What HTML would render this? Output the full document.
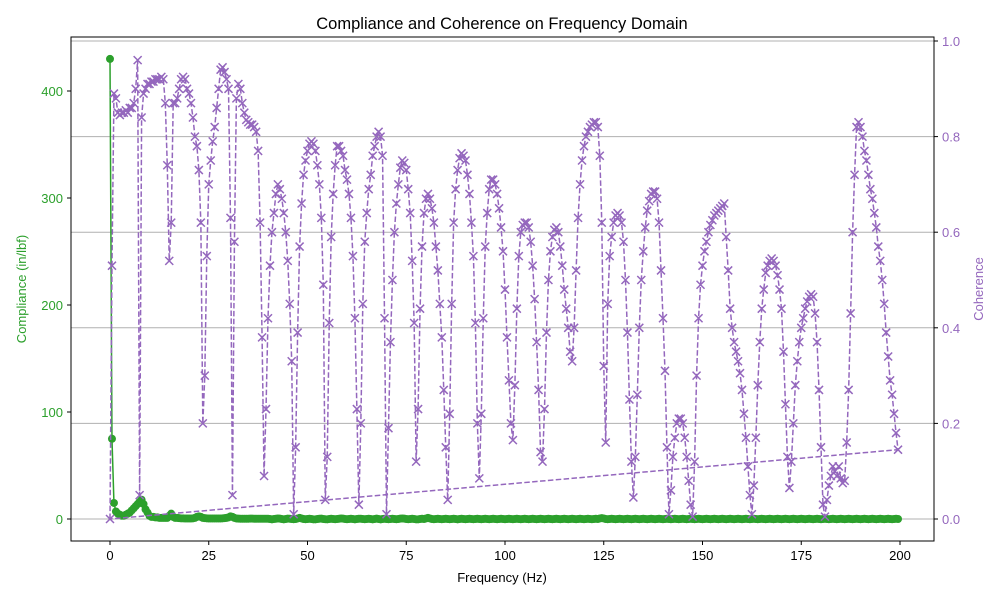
<!DOCTYPE html>
<html><head><meta charset="utf-8">
<style>
html,body{margin:0;padding:0;background:#fff;}
svg{display:block;font-family:"Liberation Sans","DejaVu Sans",sans-serif;}
</style></head>
<body>
<svg id="chart" width="1000" height="600" viewBox="0 0 1000 600" xmlns="http://www.w3.org/2000/svg">
<rect x="0" y="0" width="1000" height="600" fill="#fff"/>
<text x="502" y="29" font-size="16.5" text-anchor="middle" fill="#000">Compliance and Coherence on Frequency Domain</text>
<g id="grid"></g>
<g id="plot"></g>
<rect x="71" y="37" width="863" height="504" fill="none" stroke="#000" stroke-width="1"/>
<g id="axes"></g>
<text x="502" y="582" font-size="13" text-anchor="middle" fill="#000">Frequency (Hz)</text>
<text transform="translate(26,289) rotate(-90)" font-size="13" text-anchor="middle" fill="#2ca02c">Compliance (in/lbf)</text>
<text transform="translate(983,289) rotate(-90)" font-size="13" text-anchor="middle" fill="#9467bd">Coherence</text>
</svg>
<script>
const xTicks=[0,25,50,75,100,125,150,175,200];
const leftTicks=[0,100,200,300,400];
const rightTicks=[0.0,0.2,0.4,0.6,0.8,1.0];
const freqStep=0.5;
const coherence=[
0,0.53, 0.89,0.88, 0.85,0.845, 0.85,0.85, 0.855,0.85, 0.86,0.86, 0.87,0.90, 0.96,0.05, 0.84,0.89, 0.90,0.91,
0.91,0.915, 0.915,0.92, 0.92,0.92, 0.925,0.92, 0.87,0.74, 0.54,0.62, 0.87,0.87, 0.88,0.90, 0.92,0.925, 0.92,0.90,
0.89,0.87, 0.84,0.80, 0.78,0.73, 0.62,0.2, 0.30,0.55, 0.70,0.75, 0.79,0.82, 0.86,0.9, 0.94,0.945, 0.935,0.92,
0.90,0.63, 0.05,0.58, 0.88,0.91, 0.90,0.87, 0.85,0.835, 0.83,0.825, 0.825,0.82, 0.81,0.77, 0.62,0.38, 0.09,0.23,
0.42,0.53, 0.6,0.64, 0.68,0.70, 0.69,0.67, 0.64,0.6, 0.54,0.45, 0.33,0.01, 0.15,0.39, 0.57,0.66, 0.72,0.75,
0.77,0.785, 0.79,0.785, 0.77,0.74, 0.70,0.63, 0.49,0.04, 0.13,0.41, 0.59,0.68, 0.74,0.78, 0.78,0.77, 0.76,0.73,
0.71,0.68, 0.63,0.55, 0.42,0.23, 0.03,0.2, 0.45,0.58, 0.64,0.69, 0.72,0.76, 0.78,0.80, 0.81,0.80, 0.76,0.42,
0.01,0.19, 0.37,0.5, 0.6,0.66, 0.70,0.735, 0.75,0.745, 0.73,0.69, 0.64,0.54, 0.41,0.12, 0.23,0.44, 0.57,0.64,
0.67,0.68, 0.67,0.65, 0.62,0.57, 0.52,0.45, 0.38,0.27, 0.15,0.04, 0.22,0.45, 0.62,0.69, 0.73,0.755, 0.765,0.76,
0.75,0.72, 0.68,0.62, 0.55,0.41, 0.2,0.085, 0.22,0.42, 0.57,0.64, 0.69,0.71, 0.71,0.70, 0.68,0.65, 0.61,0.56,
0.48,0.38, 0.29,0.2, 0.165,0.28, 0.44,0.55, 0.6,0.615, 0.62,0.62, 0.61,0.58, 0.53,0.46, 0.37,0.27, 0.14,0.12,
0.23,0.39, 0.5,0.56, 0.59,0.605, 0.61,0.6, 0.57,0.53, 0.48,0.44, 0.40,0.35, 0.33,0.4, 0.52,0.63, 0.7,0.75,
0.78,0.8, 0.81,0.82, 0.825,0.83, 0.83,0.82, 0.76,0.62, 0.32,0.16, 0.45,0.55, 0.59,0.62, 0.635,0.64, 0.635,0.62,
0.58,0.50, 0.39,0.25, 0.12,0.045, 0.13,0.26, 0.4,0.5, 0.56,0.61, 0.645,0.665, 0.68,0.685, 0.685,0.67, 0.62,0.52,
0.42,0.31, 0.15,0.01, 0.06,0.13, 0.17,0.2, 0.21,0.21, 0.2,0.17, 0.13,0.08, 0.03,0.005, 0.12,0.3, 0.42,0.49,
0.53,0.56, 0.58,0.6, 0.615,0.625, 0.635,0.64, 0.645,0.65, 0.655,0.66, 0.59,0.52, 0.44,0.40, 0.37,0.35, 0.33,0.305,
0.27,0.22, 0.17,0.11, 0.05,0.01, 0.07,0.17, 0.28,0.37, 0.44,0.48, 0.515,0.53, 0.54,0.545, 0.54,0.53, 0.51,0.48,
0.44,0.35, 0.24,0.13, 0.065,0.12, 0.2,0.28, 0.33,0.37, 0.40,0.42, 0.44,0.455, 0.465,0.47, 0.465,0.43, 0.37,0.27,
0.15,0.03, 0.005,0.04, 0.07,0.09, 0.11,0.1, 0.09,0.11, 0.085,0.075, 0.08,0.16, 0.27,0.43, 0.6,0.72, 0.82,0.83,
0.82,0.80, 0.77,0.75, 0.72,0.69, 0.67,0.64, 0.61,0.57, 0.54,0.50, 0.45,0.39, 0.34,0.29, 0.26,0.22, 0.18,0.145
];
const compliance=[
430,75,15,7,5,4,3,3,4,5,6,8,10,12,14,16,18,14,9,6,
3,2,2,1.5,1.5,1,1,1,1,1,3,5,2,1,1,0.8,0.6,0.6,0.5,0.5,
0.5,0.5,0.6,1,2,2.5,2,1,0.8,0.6,0.5,0.5,0.5,0.5,0.5,0.5,0.5,0.6,0.8,1,
1.5,2.5,2,1,0.5,0.3,0.2,0.2,0.2,0.2,0.2,0.3,0.3,0.2,0.2,0.2,0.2,0.2,0.2,0.2,
0.2,0,-0.3,0,0.2,0.5,0.3,0,-0.3,0,0.3,0.2,0,-0.2,0,0.5,1,0.5,0,-0.2,
0,0.2,0,-0.3,-0.3,0,0.2,0.3,0,-0.2,-0.3,0,0.2,0,-0.2,0,0.2,0.5,0.3,0,
-0.2,0,0.2,0,-0.3,0,0.2,0.2,0,-0.2,0,0.2,0,-0.3,0,0.3,0,-0.3,0,0.2,
0,-0.2,0,0.2,0,-0.2,0,0.3,0.5,0.3,0,-0.2,0,0.2,0,-0.3,-0.3,0,0.2,0,
0.5,1,0.5,0,-0.2,0,0.2,0,-0.2,0,0.2,0,-0.2,0,0.2,0,-0.3,0,0.2,0,
-0.2,0,0.2,0,-0.2,0,0.2,0,-0.2,0,0.2,0,-0.2,0,0.2,0,-0.2,0,0.2,0,
-0.2,0,0.2,0,-0.2,0,0.2,0,-0.2,0,0.2,0,-0.2,0,0.2,0,-0.2,0,0.2,0,
-0.2,0,0.2,0,-0.2,0,0.2,0,-0.2,0,0.2,0,-0.2,0,0.2,0,-0.2,0,0.2,0,
-0.2,0,0.2,0,-0.2,0,0.2,0,0.5,0.8,0.5,0,-0.2,0,0.2,0,-0.2,0,0.2,0,
-0.2,0,0.2,0,-0.2,0,0.2,0,-0.2,0,0.2,0,-0.2,0,0.2,0,-0.2,0,0.2,0,
-0.2,0,0.2,0,-0.2,0,0.2,0,-0.2,0,0.2,0,-0.2,0,0.2,0,-0.2,0,0.2,0,
-0.2,0,0.2,0,-0.2,0,0.2,0,-0.2,0,0.2,0,-0.2,0,0.2,0,-0.2,0,0.2,0,
-0.2,0,0.2,0,-0.2,0,0.2,0,-0.2,0,0.2,0,-0.2,0,0.2,0,-0.2,0,0.2,0,
-0.2,0,0.2,0,-0.2,0,0.2,0,-0.2,0,0.2,0,-0.2,0,0.2,0,-0.2,0,0.2,0,
-0.2,0,0.2,0,-0.2,0,0.2,0,-0.2,0,0.2,0,-0.2,0,0.2,0,-0.2,0,0.2,0,
-0.2,0,0.2,0,-0.2,0,0.2,0,-0.2,0,0.2,0,-0.2,0,0.2,0,-0.2,0,0.2,0
];
const NS='http://www.w3.org/2000/svg';
const X0=71,X1=934,Y0=37,Y1=541;
function xScale(f){return 110+f*3.95;}
function yLeft(v){return 519-v*1.07;}
function yRight(c){return 519-c*478;}
function mk(tag,attrs,parent){const e=document.createElementNS(NS,tag);for(const k in attrs)e.setAttribute(k,attrs[k]);parent.appendChild(e);return e;}
const grid=document.getElementById('grid'),plot=document.getElementById('plot'),axes=document.getElementById('axes');
rightTicks.forEach(t=>{
  const y=yRight(t);
  const g=mk('line',{x1:X0,x2:X1,y1:y,y2:y,stroke:'#b0b0b0','stroke-width':1},grid);
  
  
  const tk=mk('line',{x1:X1,x2:X1+4,y1:y,y2:y,stroke:'#000'},axes);
  
  
  const tx=mk('text',{x:X1+8,y:y+5,'font-size':13,fill:'#9467bd'},axes);
  tx.textContent=t.toFixed(1);
  
  
});
leftTicks.forEach(t=>{
  const y=yLeft(t);
  const tk=mk('line',{x1:X0-4,x2:X0,y1:y,y2:y,stroke:'#000'},axes);
  
  
  const tx=mk('text',{x:X0-8,y:y+5,'font-size':13,fill:'#2ca02c','text-anchor':'end'},axes);
  tx.textContent=String(t);
  
  
});
xTicks.forEach(t=>{
  const x=xScale(t);
  const tk=mk('line',{x1:x,x2:x,y1:Y1,y2:Y1+4,stroke:'#000'},axes);
  
  
  const tx=mk('text',{x:x,y:Y1+19,'font-size':13,fill:'#000','text-anchor':'middle'},axes);
  tx.textContent=String(t);
  
  
});
let cp='';
compliance.forEach((v,i)=>{cp+=(i?'L':'M')+xScale(i*freqStep).toFixed(2)+' '+yLeft(v).toFixed(2);});
const cl=mk('path',{d:cp,fill:'none',stroke:'#2ca02c','stroke-width':1.5},plot);


const cg=mk('g',{fill:'#2ca02c'},plot);


compliance.forEach((v,i)=>{
  const c=mk('circle',{cx:xScale(i*freqStep),cy:yLeft(v),r:4},cg);
  
  
});
let hp='';
coherence.forEach((v,i)=>{hp+=(i?'L':'M')+xScale(i*freqStep).toFixed(2)+' '+yRight(v).toFixed(2);});
hp+='L'+xScale(0).toFixed(2)+' '+yRight(coherence[0]).toFixed(2);
const hl=mk('path',{d:hp,fill:'none',stroke:'#9467bd','stroke-width':1.5,'stroke-dasharray':'5.5,2.4'},plot);


const hg=mk('g',{stroke:'#9467bd','stroke-width':1.5},plot);


coherence.forEach((v,i)=>{
  const x=xScale(i*freqStep),y=yRight(v),s=4;
  const m=mk('path',{d:`M${x-s} ${y-s}L${x+s} ${y+s}M${x-s} ${y+s}L${x+s} ${y-s}`},hg);
  
  
});
</script>
</body></html>
